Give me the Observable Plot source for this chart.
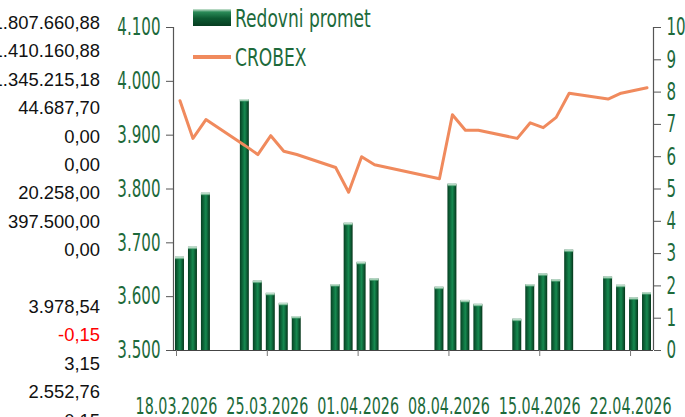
<!DOCTYPE html>
<html>
<head>
<meta charset="utf-8">
<script src="https://cdn.jsdelivr.net/npm/d3@7"></script>
<script src="https://cdn.jsdelivr.net/npm/@observablehq/plot@0.6"></script>
<style>
  html, body { margin: 0; padding: 0; width: 685px; height: 417px; overflow: hidden; background: #fff; }
  #wrap { position: relative; width: 685px; height: 417px; }
  #chart { position: absolute; left: 0; top: 0; }
  .tbl { position: absolute; right: 585px; font: 18.4px "Liberation Sans", Arial, sans-serif; color: #111; line-height: 18px; white-space: nowrap; text-align: right; }
  .leg { position: absolute; font: 19px "Liberation Sans Narrow", "DejaVu Sans Condensed", sans-serif; color: #1d6a3b; transform: scaleY(1.28); transform-origin: left center; line-height: 20px; white-space: nowrap; }
  .swatch-bar { position: absolute; left: 193px; top: 9px; width: 38px; height: 17px;
    background: linear-gradient(to bottom, #cfe6d6 0%, #2a8a57 18%, #0d5a32 55%, #073d21 100%); }
  .swatch-line { position: absolute; left: 193px; top: 55px; width: 38px; height: 4px; background: #f08a5d; }
</style>
</head>
<body>
<div id="wrap">
  <div id="chart"></div>
</div>
<script>
// ---- data ----
const dates = ["2026-03-18","2026-03-19","2026-03-20",
  "2026-03-23","2026-03-24","2026-03-25","2026-03-26","2026-03-27",
  "2026-03-30","2026-03-31","2026-04-01","2026-04-02",
  "2026-04-07","2026-04-08","2026-04-09","2026-04-10",
  "2026-04-13","2026-04-14","2026-04-15","2026-04-16","2026-04-17",
  "2026-04-20","2026-04-21","2026-04-22","2026-04-23"];
const turnover = [2.89, 3.20, 4.87,
  7.77, 2.15, 1.77, 1.46, 1.05,
  2.04, 3.94, 2.73, 2.22,
  1.96, 5.15, 1.55, 1.43,
  0.97, 2.04, 2.37, 2.19, 3.11,
  2.28, 2.02, 1.63, 1.79];
const crobex = [3964, 3894, 3929,
  3881, 3864, 3899, 3870, 3864,
  3840, 3794, 3860, 3845,
  3819, 3938, 3909, 3909,
  3894, 3923, 3914, 3933, 3978,
  3967, 3978, 3983, 3988];
const leftTicks = [3500, 3600, 3700, 3800, 3900, 4000, 4100];
const rightTicks = [0,1,2,3,4,5,6,7,8,9,10];
const xTickLabels = ["2026-03-18","2026-03-25","2026-04-01","2026-04-08","2026-04-15","2026-04-22"];
const seriesNames = ["Redovni promet", "CROBEX"];
const tableValues = ["1.807.660,88","1.410.160,88","1.345.215,18","44.687,70","0,00","0,00",
  "20.258,00","397.500,00","0,00","","3.978,54","-0,15","3,15","2.552,76","0,15"];

// ---- build ----
const DAY = 864e5;
const yMin = 3500, yMax = 4100, rMax = 10;
const k = (yMax - yMin) / rMax;          // right-axis unit in left-axis units
const toLeft = v => yMin + v * k;
const data = dates.map((d, i) => ({date: new Date(d + "T00:00Z"), t: turnover[i], c: crobex[i]}));
const xStart = new Date("2026-03-18T00:00Z"), xEnd = new Date("2026-04-24T00:00Z");
const dotFmt = d3.formatLocale({decimal: ",", thousands: ".", grouping: [3], currency: ["", ""]}).format(",");
const green = "#1d6a3b";
const axisFont = "\"Liberation Sans Narrow\", \"DejaVu Sans Condensed\", sans-serif";

const plot = Plot.plot({
  width: 685, height: 417,
  marginLeft: 173, marginRight: 32, marginTop: 27, marginBottom: 67,
  style: {fontFamily: axisFont, background: "transparent", overflow: "visible"},
  x: {type: "utc", domain: [xStart, xEnd]},
  y: {domain: [yMin, yMax]},
  marks: [
    Plot.rect(data, {x1: d => d.date, x2: d => new Date(+d.date + DAY), y1: yMin, y2: d => toLeft(d.t),
      fill: "url(#barGrad)", insetLeft: 2, insetRight: 2}),
    Plot.rect(data, {x1: d => d.date, x2: d => new Date(+d.date + DAY), y1: d => toLeft(d.t) - 6, y2: d => toLeft(d.t),
      fill: "url(#capGrad)", insetLeft: 2, insetRight: 2}),
    Plot.ruleX([xStart], {stroke: "#555", strokeWidth: 1.2}),
    Plot.ruleX([xEnd], {stroke: "#555", strokeWidth: 1.2}),
    Plot.ruleY([yMin], {stroke: "#444", strokeWidth: 1.2}),
    Plot.line(data, {x: d => new Date(+d.date + DAY / 2), y: "c", stroke: "#f08a5d", strokeWidth: 3}),
    Plot.axisY({anchor: "left", label: null, ticks: leftTicks, tickFormat: d => dotFmt(d), tickSize: 7, tickPadding: 6,
      fontSize: 19.5, stroke: "#555"}),
    Plot.axisY({anchor: "right", label: null, ticks: rightTicks.map(toLeft), tickFormat: d => String(Math.round((d - yMin) / k)),
      tickSize: 7, tickPadding: 6, fontSize: 19.5, stroke: "#555"}),
    Plot.axisX({label: null, ticks: xTickLabels.map(s => new Date(s + "T00:00Z")), tickFormat: d3.utcFormat("%d.%m.%Y"),
      tickSize: 6, tickPadding: 43, fontSize: 18.5, stroke: "#777", dx: 3})
  ]
});

// gradients
const ns = "http://www.w3.org/2000/svg";
const defs = document.createElementNS(ns, "defs");
defs.innerHTML = `
  <linearGradient id="barGrad" x1="0" x2="1" y1="0" y2="0">
    <stop offset="0" stop-color="#073f22"/>
    <stop offset="0.35" stop-color="#0f6f3f"/>
    <stop offset="0.55" stop-color="#168a50"/>
    <stop offset="0.8" stop-color="#0c5a33"/>
    <stop offset="1" stop-color="#063519"/>
  </linearGradient>
  <linearGradient id="capGrad" x1="0" x2="0" y1="0" y2="1">
    <stop offset="0" stop-color="#e3f1e8"/>
    <stop offset="0.5" stop-color="#8cc2a2"/>
    <stop offset="1" stop-color="#168a50" stop-opacity="0"/>
  </linearGradient>`;
plot.insertBefore(defs, plot.firstChild);
document.getElementById("chart").appendChild(plot);

// axis label colors + tall narrow text (scale about each label's own anchor)
const SX = 0.86, SY = 1.24;
plot.querySelectorAll('g[aria-label$="tick label"]').forEach(g => {
  g.setAttribute("fill", green);
  g.querySelectorAll("text").forEach(t => {
    t.setAttribute("fill", green);
    const b = t.getBBox();
    const anchor = getComputedStyle(t).textAnchor;
    const cx = anchor === "end" ? b.x + b.width : anchor === "start" ? b.x : b.x + b.width / 2;
    const cy = b.y + b.height / 2;
    const tr = t.getAttribute("transform") || "";
    t.setAttribute("transform", `${tr} translate(${cx},${cy}) scale(${SX},${SY}) translate(${-cx},${-cy})`);
  });
});

// legend
const wrap = document.getElementById("wrap");
const sb = document.createElement("div"); sb.className = "swatch-bar"; wrap.appendChild(sb);
const sl = document.createElement("div"); sl.className = "swatch-line"; wrap.appendChild(sl);
[[seriesNames[0], 8], [seriesNames[1], 47]].forEach(([txt, top]) => {
  const el = document.createElement("div");
  el.className = "leg"; el.textContent = txt;
  el.style.left = "235px"; el.style.top = top + "px";
  wrap.appendChild(el);
});

// stray table column on the left
tableValues.forEach((v, i) => {
  if (!v) return;
  const el = document.createElement("div");
  el.className = "tbl"; el.textContent = v;
  el.style.top = (23 + i * 28.4 - 9) + "px";
  if (v.startsWith("-")) el.style.color = "#ff0000";
  wrap.appendChild(el);
});
</script>
</body>
</html>
